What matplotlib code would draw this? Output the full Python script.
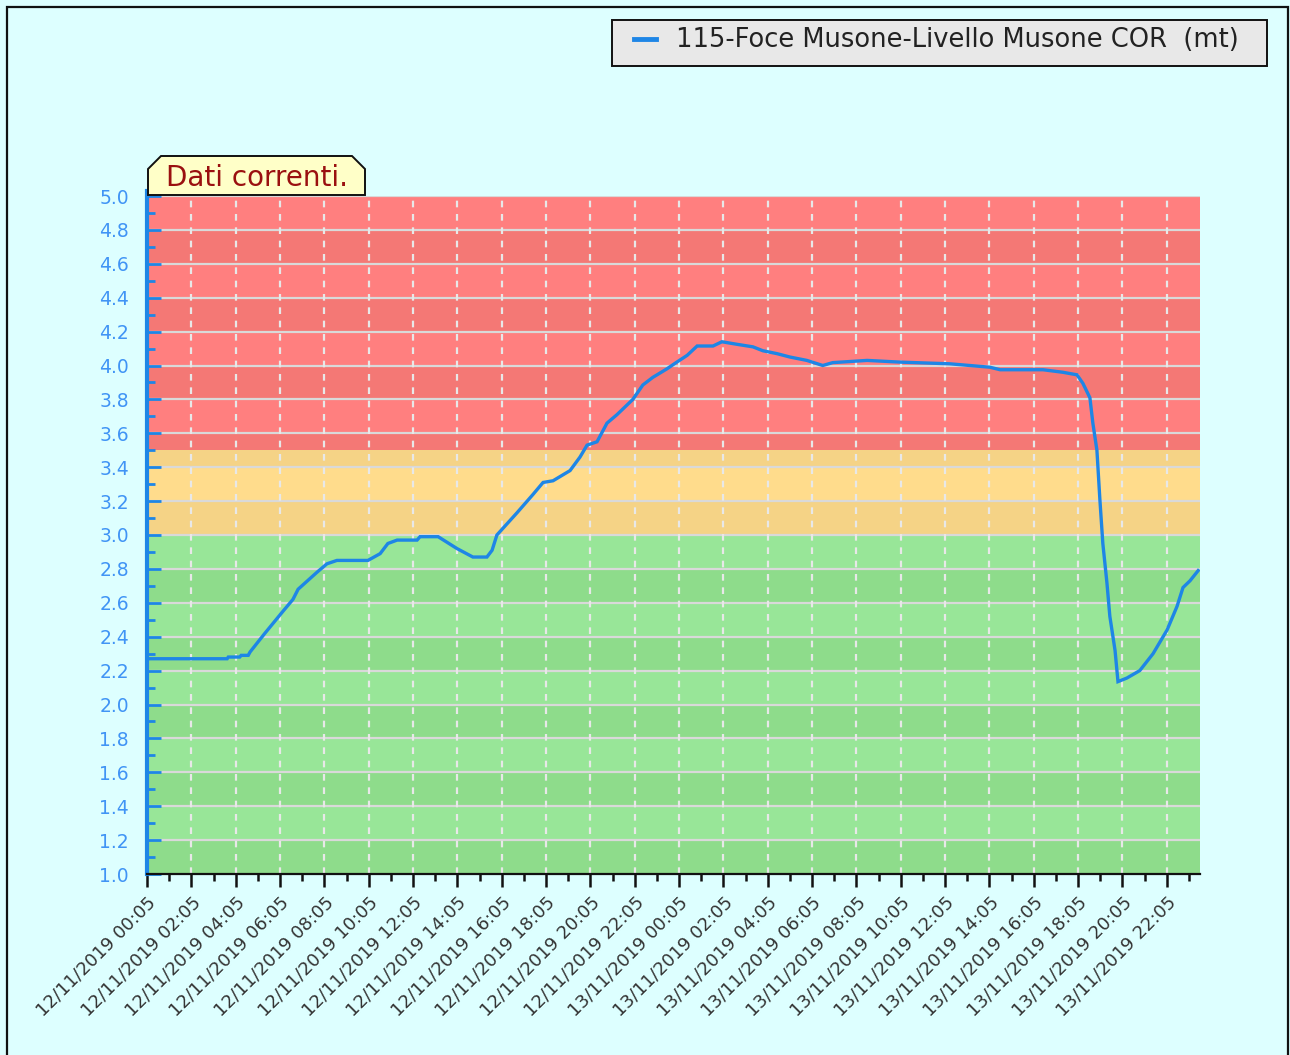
import matplotlib
matplotlib.use('Agg')
import matplotlib.pyplot as plt
import matplotlib.dates as mdates
import pandas as pd
import numpy as np
from matplotlib.patches import Polygon, Rectangle
from matplotlib.lines import Line2D

# ---------------- data ----------------
times = [
    "2019-11-12 00:05", "2019-11-12 03:42", "2019-11-12 03:45", "2019-11-12 04:16",
    "2019-11-12 04:20", "2019-11-12 04:39", "2019-11-12 04:44", "2019-11-12 05:24",
    "2019-11-12 06:13", "2019-11-12 06:40", "2019-11-12 06:54", "2019-11-12 07:45",
    "2019-11-12 08:12", "2019-11-12 08:39", "2019-11-12 10:03", "2019-11-12 10:36",
    "2019-11-12 10:57", "2019-11-12 11:22", "2019-11-12 12:16", "2019-11-12 12:24",
    "2019-11-12 13:13", "2019-11-12 14:04", "2019-11-12 14:47", "2019-11-12 15:25",
    "2019-11-12 15:39", "2019-11-12 15:52", "2019-11-12 16:46", "2019-11-12 17:30",
    "2019-11-12 17:57", "2019-11-12 18:24", "2019-11-12 19:10", "2019-11-12 19:37",
    "2019-11-12 19:56", "2019-11-12 20:23", "2019-11-12 20:50", "2019-11-12 21:17",
    "2019-11-12 22:00", "2019-11-12 22:27", "2019-11-12 22:54", "2019-11-12 23:32",
    "2019-11-12 23:59", "2019-11-13 00:27", "2019-11-13 00:54", "2019-11-13 01:37",
    "2019-11-13 02:01", "2019-11-13 02:42", "2019-11-13 03:25", "2019-11-13 03:52",
    "2019-11-13 04:30", "2019-11-13 05:05", "2019-11-13 05:51", "2019-11-13 06:34",
    "2019-11-13 07:01", "2019-11-13 08:34", "2019-11-13 10:03", "2019-11-13 12:18",
    "2019-11-13 14:06", "2019-11-13 14:34", "2019-11-13 16:30", "2019-11-13 17:24",
    "2019-11-13 18:02", "2019-11-13 18:18", "2019-11-13 18:37", "2019-11-13 18:45",
    "2019-11-13 18:56", "2019-11-13 19:04", "2019-11-13 19:12", "2019-11-13 19:23",
    "2019-11-13 19:31", "2019-11-13 19:45", "2019-11-13 19:53", "2019-11-13 20:17",
    "2019-11-13 20:52", "2019-11-13 21:28", "2019-11-13 22:06", "2019-11-13 22:33",
    "2019-11-13 22:49", "2019-11-13 23:08", "2019-11-13 23:30",
]
levels = [
    2.27, 2.27, 2.28, 2.28,
    2.29, 2.29, 2.31, 2.42,
    2.55, 2.62, 2.68, 2.78,
    2.83, 2.85, 2.85, 2.89,
    2.95, 2.97, 2.97, 2.99,
    2.99, 2.92, 2.87, 2.87,
    2.91, 3.00, 3.13, 3.24,
    3.31, 3.32, 3.38, 3.46,
    3.53, 3.55, 3.66, 3.71,
    3.80, 3.885, 3.93, 3.98,
    4.02, 4.06, 4.115, 4.115,
    4.14, 4.125, 4.11, 4.087,
    4.07, 4.05, 4.03, 4.00,
    4.017, 4.03, 4.02, 4.01,
    3.99, 3.975, 3.975, 3.96,
    3.945, 3.895, 3.81, 3.66,
    3.50, 3.21, 2.95, 2.72,
    2.52, 2.32, 2.135, 2.156,
    2.20, 2.30, 2.44, 2.58,
    2.69, 2.73, 2.79,
]
series_label = "115-Foce Musone-Livello Musone COR  (mt)"
badge_text = "Dati correnti."
zone_edges = [1.0, 3.0, 3.5, 5.0]
zone_light = ['#98E698', '#FFDC8C', '#FF7F7F']
zone_dark = ['#8EDC8B', '#F5D386', '#F47875']
y_min, y_max, y_step = 1.0, 5.0, 0.2
x_start = "2019-11-12 00:05"
x_end = "2019-11-13 23:35"

# ---------------- figure ----------------
W, H = 1290, 1055
BG = '#DDFFFF'
LINE = '#1E86E6'
TICKBLUE = '#4094F5'
fig = plt.figure(figsize=(W / 100, H / 100), dpi=100)
fig.patch.set_facecolor(BG)

def fx(x):
    return x / W

def fy(y):
    return 1 - y / H

# outer border (bottom edge falls outside the picture, as in the original)
fig.add_artist(Rectangle((fx(7), fy(1060)), fx(1288) - fx(7), fy(7) - fy(1060),
                         transform=fig.transFigure, fill=False, lw=1.6,
                         edgecolor='#111111', zorder=0, clip_on=False))

ax = fig.add_axes([fx(147), fy(874), fx(1200) - fx(147), fy(196) - fy(874)])
ax.set_facecolor(BG)

t = pd.to_datetime(times)
xs, xe = pd.Timestamp(x_start), pd.Timestamp(x_end)
ax.set_xlim(xs, xe)
ax.set_ylim(y_min, y_max)

# banded zones
edges = np.round(np.arange(y_min, y_max + 1e-9, y_step), 1)
for i in range(len(edges) - 1):
    lo, hi = edges[i], edges[i + 1]
    for z in range(len(zone_edges) - 1):
        a = max(lo, zone_edges[z])
        b = min(hi, zone_edges[z + 1])
        if b > a:
            col = zone_light[z] if i % 2 == 1 else zone_dark[z]
            ax.axhspan(a, b, color=col, lw=0, zorder=0)

# grid
for v in edges[1:]:
    ax.axhline(v, color='#D9D9D9', lw=1.6, zorder=1)
major_x = pd.date_range(xs, periods=24, freq='2h')
minor_x = pd.date_range(xs + pd.Timedelta(hours=1), periods=24, freq='2h')
for d in major_x[1:]:
    ax.axvline(d, color='#E8E8E8', lw=1.6, ls=(0, (3, 3)), zorder=1)

ax.plot(t, levels, color=LINE, lw=2.4, zorder=3, solid_joinstyle='miter')

# spines
for s in ['top', 'right']:
    ax.spines[s].set_visible(False)
ax.spines['left'].set_color(LINE)
ax.spines['left'].set_linewidth(3)
ax.spines['left'].set_bounds(y_min, y_max + 0.03)
ax.spines['bottom'].set_color('#111111')
ax.spines['bottom'].set_linewidth(1.6)

# y ticks
ax.set_yticks(edges)
ax.set_yticklabels([f"{v:.1f}" for v in edges])
ax.set_yticks(np.round(np.arange(y_min + 0.1, y_max, 0.2), 1), minor=True)
ax.tick_params(axis='y', which='major', direction='in', length=10, width=2,
               color=LINE, labelcolor=TICKBLUE, labelsize=13.5, pad=13)
ax.tick_params(axis='y', which='minor', direction='in', length=6, width=2,
               color=LINE)

# x ticks
ax.set_xticks(major_x)
ax.set_xticks(minor_x, minor=True)
ax.xaxis.set_major_formatter(mdates.DateFormatter('%d/%m/%Y %H:%M'))
ax.tick_params(axis='x', which='major', direction='out', length=9, width=1.8,
               color='#111111', labelcolor='#333333', labelsize=13, pad=5)
ax.tick_params(axis='x', which='minor', direction='out', length=5, width=1.8,
               color='#111111')
for lab in ax.get_xticklabels():
    lab.set_rotation(45)
    lab.set_ha('right')
    lab.set_va('top')
    lab.set_rotation_mode('anchor')

# badge "Dati correnti."
bx0, bx1, by0, by1, ch = 148, 365, 156, 195, 13
pts = [(bx0, by1), (bx0, by0 + ch), (bx0 + ch, by0), (bx1 - ch, by0),
       (bx1, by0 + ch), (bx1, by1)]
fig.add_artist(Polygon([(fx(x), fy(y)) for x, y in pts], closed=True,
                       transform=fig.transFigure, facecolor='#FFFFC8',
                       edgecolor='#111111', lw=1.4, zorder=5))
fig.text(fx(257), fy(178), badge_text, ha='center', va='center',
         fontsize=20, color='#9A1010', zorder=6)

# legend
lx0, lx1, ly0, ly1 = 612, 1267, 20, 66
fig.add_artist(Rectangle((fx(lx0), fy(ly1)), fx(lx1) - fx(lx0), fy(ly0) - fy(ly1),
                         transform=fig.transFigure, facecolor='#E8E8E8',
                         edgecolor='#111111', lw=1.4, zorder=5))
fig.add_artist(Line2D([fx(634), fx(656)], [fy(39), fy(39)], transform=fig.transFigure,
                      color=LINE, lw=3.5, zorder=6))
fig.text(fx(676), fy(40), series_label, ha='left', va='center', fontsize=18.5,
         color='#222222', zorder=6)

fig.savefig('out.png', dpi=100, facecolor=BG)
